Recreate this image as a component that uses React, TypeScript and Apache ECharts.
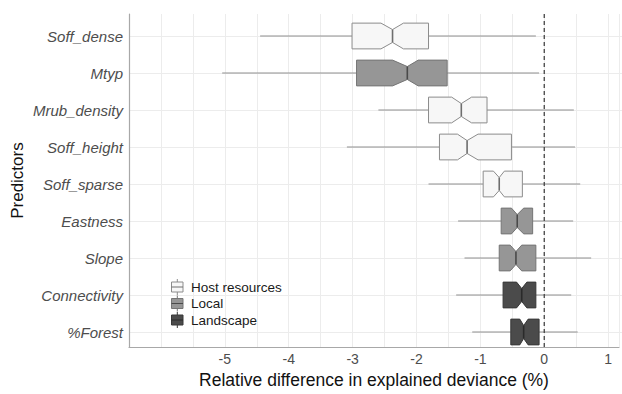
import React, { useEffect, useRef } from "react";
import * as echarts from "echarts";

// ---- Data ----
const predictors = [
  "Soff_dense",
  "Mtyp",
  "Mrub_density",
  "Soff_height",
  "Soff_sparse",
  "Eastness",
  "Slope",
  "Connectivity",
  "%Forest",
];
const groupNames = ["Host resources", "Local", "Landscape"];
// group index of each predictor
const predictorGroup = [0, 1, 0, 0, 0, 1, 1, 2, 2];
const whiskerLow = [-4.46, -5.05, -2.62, -3.11, -1.84, -1.38, -1.28, -1.41, -1.16];
const q1 = [-3.03, -2.96, -1.84, -1.67, -0.99, -0.71, -0.74, -0.68, -0.56];
const notchLow = [-2.58, -2.4, -1.48, -1.39, -0.83, -0.55, -0.57, -0.47, -0.42];
const median = [-2.4, -2.17, -1.33, -1.24, -0.74, -0.46, -0.48, -0.39, -0.36];
const notchHigh = [-2.23, -2.0, -1.17, -1.07, -0.66, -0.36, -0.39, -0.31, -0.29];
const q3 = [-1.84, -1.55, -0.93, -0.55, -0.38, -0.22, -0.17, -0.17, -0.12];
const whiskerHigh = [-0.17, -0.12, 0.42, 0.44, 0.52, 0.41, 0.69, 0.38, 0.48];
const xTickLabels = [-5, -4, -3, -2, -1, 0, 1];
const referenceValue = [0];

// ---- Styles ----
const groupFill = ["#f7f7f7", "#969696", "#4b4b4b"];
const groupStroke = ["#8c8c8c", "#757575", "#383838"];
const groupMedian = ["#6e6e6e", "#4a4a4a", "#2a2a2a"];
const FONT = "'Liberation Sans', Arial, Helvetica, sans-serif";

export default function App() {
  const ref = useRef<HTMLDivElement>(null);

  useEffect(() => {
    if (!ref.current) return;
    const chart = echarts.init(ref.current, null, { renderer: "svg" });

    const boxData = predictors.map((_, i) => [
      i,
      whiskerLow[i],
      q1[i],
      notchLow[i],
      median[i],
      notchHigh[i],
      q3[i],
      whiskerHigh[i],
      predictorGroup[i],
    ]);

    const legendTop = 287;
    const legendStep = 16.5;
    const legendChildren: any[] = [
      {
        type: "rect",
        shape: { x: 165, y: 277, width: 121, height: 53 },
        style: { fill: "#ffffff" },
        z: 0,
      },
    ];
    groupNames.forEach((name, g) => {
      const cy = legendTop + g * legendStep;
      legendChildren.push(
        {
          type: "line",
          shape: { x1: 177.3, y1: cy - 8, x2: 177.3, y2: cy + 8 },
          style: { stroke: groupStroke[g], lineWidth: 1 },
          z: 1,
        },
        {
          type: "rect",
          shape: { x: 171.5, y: cy - 5, width: 11.5, height: 10 },
          style: { fill: groupFill[g], stroke: groupStroke[g], lineWidth: 1 },
          z: 2,
        },
        {
          type: "line",
          shape: { x1: 171.5, y1: cy, x2: 183, y2: cy },
          style: { stroke: groupMedian[g], lineWidth: 1 },
          z: 3,
        },
        {
          type: "text",
          x: 191,
          y: cy,
          style: {
            text: name,
            fill: "#1a1a1a",
            font: `13.5px ${FONT}`,
            textVerticalAlign: "middle",
            verticalAlign: "middle",
          },
          z: 3,
        }
      );
    });

    const option: any = {
      animation: false,
      backgroundColor: "#ffffff",
      textStyle: { fontFamily: FONT },
      grid: [
        { left: 129, right: 0, top: 14, bottom: 40 },
        { left: 129, right: 0, top: 36, bottom: 62 },
      ],
      xAxis: [
        {
          gridIndex: 0,
          type: "value",
          min: -6.5,
          max: 1.17,
          interval: 0.5,
          axisLine: { show: true, onZero: false, lineStyle: { color: "#a8a8a8", width: 1.2 } },
          axisTick: { show: false },
          axisLabel: {
            color: "#4d4d4d",
            fontSize: 14,
            margin: 5,
            formatter: (v: number) => {
              const r = Math.round(v);
              return Math.abs(v - r) < 1e-6 && xTickLabels.includes(r) ? String(r) : "";
            },
          },
          splitLine: { show: true, lineStyle: { color: "#ececec", width: 1 } },
          name: "Relative difference in explained deviance (%)",
          nameLocation: "middle",
          nameGap: 21,
          nameTextStyle: { fontSize: 17.5, color: "#111111" },
        },
        {
          gridIndex: 1,
          type: "value",
          min: -6.5,
          max: 1.17,
          show: false,
          splitLine: { show: false },
        },
      ],
      yAxis: [
        {
          gridIndex: 0,
          type: "value",
          min: 0,
          max: 1,
          axisLine: { show: true, onZero: false, lineStyle: { color: "#a8a8a8", width: 1.2 } },
          axisTick: { show: false },
          axisLabel: { show: false },
          splitLine: { show: false },
          name: "Predictors",
          nameLocation: "middle",
          nameGap: 103,
          nameTextStyle: { fontSize: 17, color: "#111111" },
        },
        {
          gridIndex: 1,
          type: "category",
          data: predictors,
          inverse: true,
          boundaryGap: false,
          axisLine: { show: false },
          axisTick: { show: false },
          axisLabel: {
            interval: 0,
            fontStyle: "italic",
            fontSize: 15,
            color: "#4d4d4d",
            margin: 6,
          },
          splitLine: { show: true, interval: 0, lineStyle: { color: "#ececec", width: 1 } },
        },
      ],
      series: [
        {
          type: "custom",
          name: "boxes",
          xAxisIndex: 1,
          yAxisIndex: 1,
          data: boxData,
          encode: { x: [1, 2, 3, 4, 5, 6, 7], y: 0 },
          z: 3,
          renderItem: (params: any, api: any) => {
            const idx = api.value(0);
            const g = api.value(8);
            const y = api.coord([0, idx])[1];
            const step = Math.abs(api.coord([0, 1])[1] - api.coord([0, 0])[1]);
            const h = step * 0.348;
            const hn = h * 0.5;
            const X = (v: number) => api.coord([v, idx])[0];
            const xwl = X(api.value(1));
            const xq1 = X(api.value(2));
            const xnl = X(api.value(3));
            const xmd = X(api.value(4));
            const xnh = X(api.value(5));
            const xq3 = X(api.value(6));
            const xwh = X(api.value(7));
            return {
              type: "group",
              children: [
                {
                  type: "line",
                  shape: { x1: xwl, y1: y, x2: xq1, y2: y },
                  style: { stroke: "#8f8f8f", lineWidth: 1.2 },
                },
                {
                  type: "line",
                  shape: { x1: xq3, y1: y, x2: xwh, y2: y },
                  style: { stroke: "#8f8f8f", lineWidth: 1.2 },
                },
                {
                  type: "polygon",
                  shape: {
                    points: [
                      [xq1, y - h],
                      [xnl, y - h],
                      [xmd, y - hn],
                      [xnh, y - h],
                      [xq3, y - h],
                      [xq3, y + h],
                      [xnh, y + h],
                      [xmd, y + hn],
                      [xnl, y + h],
                      [xq1, y + h],
                    ],
                  },
                  style: { fill: groupFill[g], stroke: groupStroke[g], lineWidth: 1 },
                },
                {
                  type: "line",
                  shape: { x1: xmd, y1: y - hn, x2: xmd, y2: y + hn },
                  style: { stroke: groupMedian[g], lineWidth: 1.6 },
                },
              ],
            };
          },
        },
        {
          type: "custom",
          name: "reference",
          xAxisIndex: 0,
          yAxisIndex: 0,
          data: referenceValue.map((v) => [v]),
          encode: { x: 0 },
          z: 5,
          renderItem: (params: any, api: any) => {
            const v = api.value(0);
            const p0 = api.coord([v, 0]);
            const p1 = api.coord([v, 1]);
            return {
              type: "line",
              shape: { x1: p0[0], y1: p0[1], x2: p1[0], y2: p1[1] },
              style: { stroke: "#444444", lineWidth: 1.3, lineDash: [4, 3] },
            };
          },
        },
      ],
      graphic: [
        {
          type: "group",
          z: 10,
          children: legendChildren,
        },
      ],
    };

    chart.setOption(option);
    return () => chart.dispose();
  }, []);

  return (
    <div
      ref={ref}
      style={{ position: "fixed", left: 0, top: 0, width: 622, height: 394, background: "#fff" }}
    />
  );
}
